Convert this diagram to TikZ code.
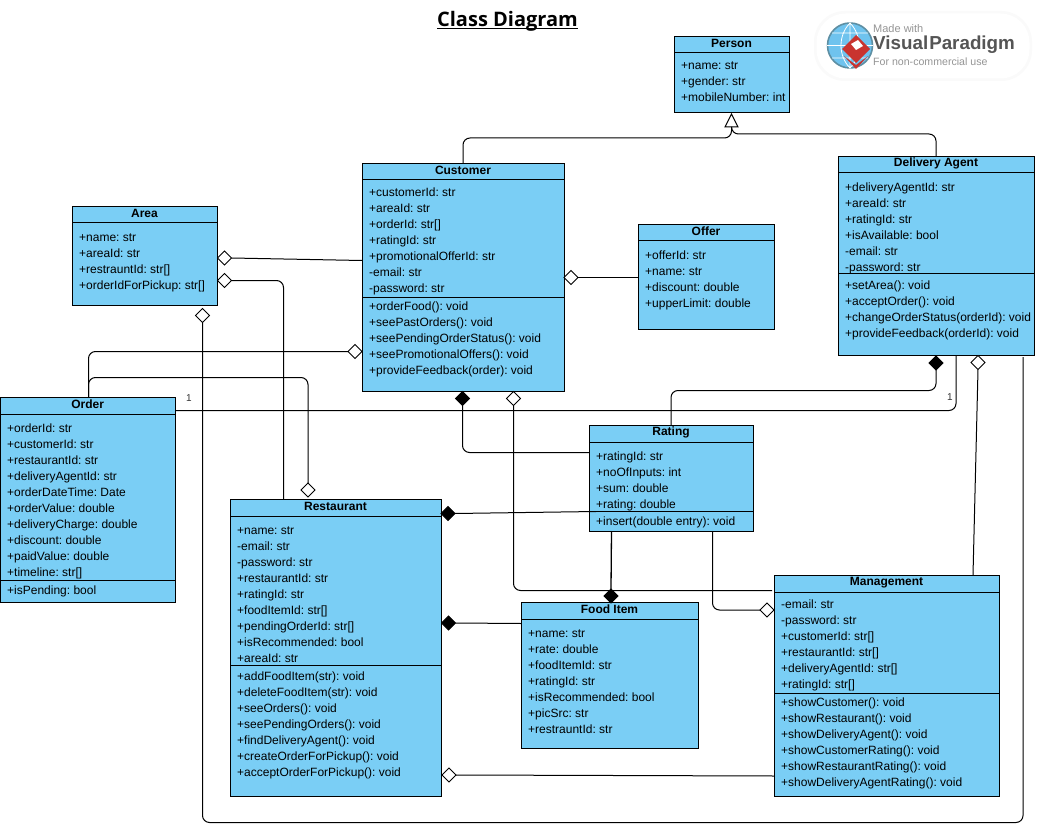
\documentclass[tikz,border=0pt]{standalone}
\usepackage{fontspec}
\setmainfont{Liberation Sans}
\newfontfamily\titlefont{Open Sans}
\usetikzlibrary{shapes.geometric,calc}
\definecolor{boxblue}{HTML}{7ACEF5}
\definecolor{logogray}{HTML}{959595}
\definecolor{logodark}{HTML}{555555}
\definecolor{logored}{HTML}{C9342F}
\definecolor{globeblue}{HTML}{6FC3EE}
\definecolor{globeedge}{HTML}{5E8FA3}
\frenchspacing
\tikzset{
  classbox/.style={draw=black,fill=boxblue,line width=1pt,inner sep=0pt,outer sep=0pt},
  classtitle/.style={font=\fontsize{12}{16}\selectfont\bfseries,inner sep=0pt,anchor=center},
  members/.style={font=\fontsize{12}{16}\selectfont,align=left,inner sep=0pt,anchor=north west},
  divider/.style={line width=1pt},
  conn/.style={line width=1pt,rounded corners=7pt},
  odia/.style={shape=diamond,aspect=1,draw=black,fill=white,line width=1pt,inner sep=0pt,minimum width=14pt,minimum height=14pt,outer sep=0pt},
  bdia/.style={odia,fill=black},
  mult/.style={font=\fontsize{10}{12}\selectfont,inner sep=0pt,text=black!80},
}
% name, x1, y1, x2, y2, title
\newcommand{\umlbox}[6]{%
  \node[classbox,minimum width={(#4-#2)*1pt},minimum height={(#5-#3-0.5)*1pt}] (#1) at ({(#2+#4)/2},{(#3+#5+0.5)/2}) {};
  \node[classtitle] (#1title) at ({(#2+#4)/2},{#3+7.2}) {#6};
  \draw[divider] (#1.west |- 0,{#3+17}) -- (#1.east |- 0,{#3+17});
}
\newcommand{\umldiv}[2]{\draw[divider] (#1.west |- 0,#2) -- (#1.east |- 0,#2);}
% name, x, y of centre of first line, lines
\newcommand{\umltext}[4]{\node[members] (#1) at (#2,{#3-7.2}) {\strut #4};}
\begin{document}
\begin{tikzpicture}[x=1pt,y=-1pt]
\useasboundingbox (0,0) rectangle (1039,837);
\fill[white] (0,0) rectangle (1039,837);

\node[font=\titlefont\fontsize{20}{24}\selectfont\bfseries,inner sep=0pt,anchor=base] (diagramtitle) at (507.5,27) {\underline{\smash{Class Diagram}}};

% watermark
\fill[black!2,rounded corners=31pt] (814,11) rectangle (1032,81);
\fill[white,rounded corners=29pt] (816.5,13.5) rectangle (1029.5,78.5);
\node[circle,draw=globeedge,fill=globeblue,line width=1.6pt,minimum size=45pt,inner sep=0pt] (globe) at (850,45.5) {};
\draw[white,line width=.8pt] (globe.north) -- (globe.south) (globe.west) -- (globe.east)
  (850,23) .. controls (838,35) and (838,56) .. (850,68)
  (850,23) .. controls (862,35) and (862,56) .. (850,68)
  (832,33) -- (868,33) (832,58) -- (868,58);
\fill[logored] (856,35) -- (870,49) -- (856,63) -- (842,49) -- cycle;
\fill[logored] (844,56) -- (856,69) -- (868,56) -- (856,65) -- cycle;
\fill[white] (851,44) -- (858,40) -- (863,46) -- (856,50) -- cycle;
\node[font=\fontsize{11}{13}\selectfont,text=logogray,inner sep=0pt,anchor=west] (logoa) at (873,29) {Made with};
\node[font=\fontsize{18.8}{22}\selectfont\bfseries,text=logodark,inner sep=0pt,anchor=west] (logob) at (873,45) {Visual\kern1pt Paradigm};
\node[font=\fontsize{10.6}{13}\selectfont,text=logogray,inner sep=0pt,anchor=west] (logoc) at (873,61.5) {For non-commercial use};

% classes
\umlbox{person}{674}{36}{789}{113}{Person}
\umltext{persona}{681}{65}{+name: str\\+gender: str\\+mobileNumber: int}

\umlbox{customer}{362}{163}{564}{391}{Customer}
\umltext{customera}{369}{192}{+customerId: str\\+areaId: str\\+orderId: str[]\\+ratingId: str\\+promotionalOfferId: str\\-email: str\\-password: str}
\umldiv{customer}{297}
\umltext{customerm}{369}{306}{+orderFood(): void\\+seePastOrders(): void\\+seePendingOrderStatus(): void\\+seePromotionalOffers(): void\\+provideFeedback(order): void}

\umlbox{agent}{838}{156}{1034}{355}{Delivery Agent}
\umltext{agenta}{845}{187}{+deliveryAgentId: str\\+areaId: str\\+ratingId: str\\+isAvailable: bool\\-email: str\\-password: str}
\umldiv{agent}{273}
\umltext{agentm}{845}{285}{+setArea(): void\\+acceptOrder(): void\\+changeOrderStatus(orderId): void\\+provideFeedback(orderId): void}

\umlbox{area}{72}{206}{217}{305}{Area}
\umltext{areaa}{79}{237}{+name: str\\+areaId: str\\+restrauntId: str[]\\+orderIdForPickup: str[]}

\umlbox{offer}{638}{224}{774}{329}{Offer}
\umltext{offera}{645}{255}{+offerId: str\\+name: str\\+discount: double\\+upperLimit: double}

\umlbox{order}{0.5}{397}{175}{602}{Order}
\umltext{ordera}{7}{428}{+orderId: str\\+customerId: str\\+restaurantId: str\\+deliveryAgentId: str\\+orderDateTime: Date\\+orderValue: double\\+deliveryCharge: double\\+discount: double\\+paidValue: double\\+timeline: str[]}
\umldiv{order}{580}
\umltext{orderm}{7}{590}{+isPending: bool}

\umlbox{rating}{589}{425}{753}{531}{Rating}
\umltext{ratinga}{596}{456}{+ratingId: str\\+noOfInputs: int\\+sum: double\\+rating: double}
\umldiv{rating}{511}
\umltext{ratingm}{596}{521}{+insert(double entry): void}

\umlbox{restaurant}{230}{499}{441}{796}{Restaurant}
\umltext{restauranta}{237}{530}{+name: str\\-email: str\\-password: str\\+restaurantId: str\\+ratingId: str\\+foodItemId: str[]\\+pendingOrderId: str[]\\+isRecommended: bool\\+areaId: str}
\umldiv{restaurant}{665}
\umltext{restaurantm}{237}{676}{+addFoodItem(str): void\\+deleteFoodItem(str): void\\+seeOrders(): void\\+seePendingOrders(): void\\+findDeliveryAgent(): void\\+createOrderForPickup(): void\\+acceptOrderForPickup(): void}

\umlbox{food}{521}{602}{698}{748}{Food Item}
\umltext{fooda}{528}{633}{+name: str\\+rate: double\\+foodItemId: str\\+ratingId: str\\+isRecommended: bool\\+picSrc: str\\+restrauntId: str}

\umlbox{management}{774}{575}{999}{796}{Management}
\umltext{managementa}{781}{604}{-email: str\\-password: str\\+customerId: str[]\\+restaurantId: str[]\\+deliveryAgentId: str[]\\+ratingId: str[]}
\umldiv{management}{693}
\umltext{managementm}{781}{702}{+showCustomer(): void\\+showRestaurant(): void\\+showDeliveryAgent(): void\\+showCustomerRating(): void\\+showRestaurantRating(): void\\+showDeliveryAgentRating(): void}

% aggregation / composition ends
\node[odia] (dAreaCust) at (224.5,258) {};
\node[odia] (dAreaRest) at (224.5,280.5) {};
\node[odia] (dAreaAgent) at (202.5,315.5) {};
\node[odia] (dCustOrder) at (355,351.5) {};
\node[odia] (dCustOffer) at (571,277.5) {};
\node[odia] (dRestOrder) at (308,490) {};
\node[bdia] (dCustRating) at (462.5,398.5) {};
\node[odia] (dCustMgmt) at (513.5,398.5) {};
\node[bdia] (dAgentRating) at (936,363) {};
\node[odia] (dAgentMgmt) at (978,362.5) {};
\node[bdia] (dRestRating) at (448,513.5) {};
\node[bdia] (dRestFood) at (448.5,623) {};
\node[bdia] (dFoodRating) at (611,596) {};
\node[odia] (dMgmtRating) at (767,610) {};
\node[odia] (dRestMgmt) at (449,775) {};

% generalisation
\coordinate (genTip) at (731.5,114);
\coordinate (genBase) at (731.5,127);
\draw[line width=1pt,fill=white] (genTip) -- (725,127) -- (738,127) -- cycle;
\draw[conn] (customer.north) -- (463,138) -- (731.5,138) -- (genBase);
\draw[conn] (agent.north -| 936,0) -- (936,134) -- (731.5,134) -- (genBase);

% connectors
\draw[line width=1pt] (dCustOffer.east) -- (offer.west |- dCustOffer);
\draw[line width=1pt] (dAreaCust.east) -- (customer.west |- 0,260.5);
\draw[conn] (dAreaRest.east) -- (283.5,280.5) -- (283.5,499);
\draw[conn] (dCustOrder.west) -- (88.5,351.5) -- (88.5,397);
\draw[conn] (order.north -| 88.5,0) -- (88.5,377.5) -- (308,377.5) -- (dRestOrder.north);
\draw[conn] (order.east |- 0,410.5) -- (956,410.5) -- (956,355);
\node[mult] (multa) at (189,398) {1};
\node[mult] (multb) at (950,397) {1};
\draw[conn] (dAreaAgent.south) -- (202.5,822.5) -- (1023,822.5) -- (1023,357);
\draw[conn] (rating.north -| 671,0) -- (671,390.5) -- (936,390.5) -- (dAgentRating.south);
\draw[conn] (dCustRating.south) -- (462.5,452.5) -- (rating.west |- 0,452.5);
\draw[conn] (dCustMgmt.south) -- (513.5,590.5) -- (772,590.5);
\draw[line width=1pt] (dRestRating.east) -- (596,511.5);
\draw[line width=1.3pt] (611.5,531) -- (dFoodRating.north);
\draw[conn] (712.5,531) -- (712.5,610) -- (dMgmtRating.west);
\draw[line width=1pt] (food.west |- 0,623.5) -- (dRestFood.east);
\draw[line width=1pt] (management.west |- 0,776) -- (dRestMgmt.east);
\draw[line width=1pt] (dAgentMgmt.south) -- (973,575);
\end{tikzpicture}
\end{document}
